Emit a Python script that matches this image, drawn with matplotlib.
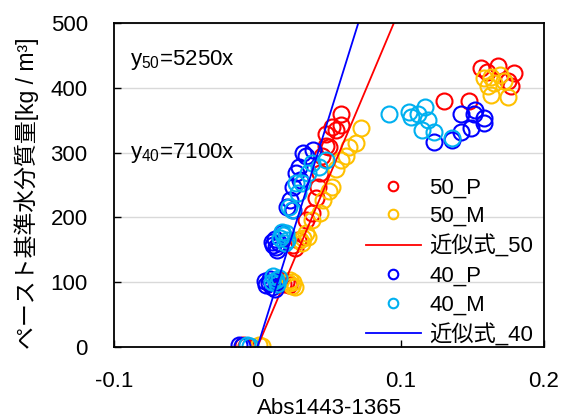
import numpy as np
import matplotlib
matplotlib.use("Agg")
import matplotlib.pyplot as plt

plt.rcParams['font.family'] = ['Liberation Sans', 'Noto Sans CJK JP']
plt.rcParams['mathtext.fontset'] = 'custom'
plt.rcParams['mathtext.rm'] = 'Liberation Sans'
plt.rcParams['mathtext.it'] = 'Liberation Sans'

# 50_P
x50P = [-0.010, -0.008, 0.016, 0.018, 0.020, 0.022, 0.025, 0.026, 0.028, 0.034, 0.038, 0.041,
        0.042, 0.044, 0.045, 0.048, 0.050, 0.048, 0.052, 0.055, 0.058, 0.058,
        0.130, 0.148, 0.156, 0.168, 0.179, 0.177, 0.175, 0.160]
y50P = [3, 2, 103, 97, 100, 95, 158, 152, 165, 196, 207, 230,
        247, 269, 294, 310, 309, 328, 340, 335, 343, 360,
        379, 380, 431, 433, 423, 402, 410, 425]
# 50_M
x50M = [0.001, 0.003, 0.022, 0.023, 0.024, 0.025, 0.026, 0.030, 0.031, 0.032, 0.034, 0.035,
        0.038, 0.044, 0.046, 0.050, 0.052, 0.055, 0.058, 0.062, 0.064, 0.069, 0.072,
        0.163, 0.169, 0.172, 0.165, 0.161, 0.163, 0.175, 0.158]
y50M = [3, 2, 99, 104, 94, 100, 92, 165, 160, 168, 176, 170,
        196, 207, 227, 240, 247, 274, 289, 295, 309, 315, 338,
        417, 420, 410, 408, 402, 389, 386, 415]
# 40_P
x40P = [-0.013, -0.011, 0.005, 0.006, 0.008, 0.009, 0.010, 0.012, 0.013, 0.010, 0.011, 0.012,
        0.013, 0.014, 0.015, 0.017, 0.021, 0.025, 0.023, 0.025, 0.030, 0.027, 0.029, 0.034,
        0.039, 0.032,
        0.123, 0.136, 0.142, 0.149, 0.158, 0.158, 0.142, 0.151, 0.152]
y40P = [3, 2, 102, 96, 99, 105, 93, 90, 100, 162, 158, 167,
        155, 150, 161, 176, 216, 212, 227, 247, 258, 269, 278, 294,
        304, 300,
        317, 320, 331, 338, 346, 354, 359, 359, 366]
# 40_M
x40M = [-0.007, -0.005, 0.010, 0.011, 0.013, 0.014, 0.015, 0.016, 0.017, 0.018, 0.019, 0.021,
        0.020, 0.022, 0.024, 0.028, 0.027, 0.031, 0.035, 0.038, 0.043, 0.048,
        0.092, 0.106, 0.107, 0.112, 0.117, 0.119, 0.115, 0.123, 0.136]
y40M = [3, 2, 100, 110, 104, 97, 107, 168, 178, 173, 160, 165,
        176, 216, 212, 238, 253, 253, 269, 284, 278, 289,
        359, 362, 355, 359, 371, 351, 335, 331, 323]

slope50 = 5250
slope40 = 7100

red = '#FF0000'
orange = '#FFC000'
blue = '#0000FF'
lblue = '#00B0F0'

fig = plt.figure(figsize=(5.62, 4.18), dpi=100)
ax = fig.add_axes([0.203, 0.170, 0.765, 0.775])

mk = dict(marker='o', linestyle='none', markerfacecolor='none', markersize=11.5, markeredgewidth=1.5)
ax.plot(x50P, y50P, color=red, label='50_P', **mk)
ax.plot(x50M, y50M, color=orange, label='50_M', **mk)
xl50 = np.array([0, 500 / slope50])
ax.plot(xl50, slope50 * xl50, color=red, lw=1.3, label='近似式_50')
ax.plot(x40P, y40P, color=blue, label='40_P', **mk)
ax.plot(x40M, y40M, color=lblue, label='40_M', **mk)
xl40 = np.array([0, 500 / slope40])
ax.plot(xl40, slope40 * xl40, color=blue, lw=1.3, label='近似式_40')

ax.set_xlim(-0.1, 0.2)
ax.set_ylim(0, 500)
ax.set_xticks([-0.1, 0, 0.1, 0.2])
ax.set_xticklabels(['-0.1', '0', '0.1', '0.2'])
ax.set_yticks(np.arange(0, 501, 100))
ax.yaxis.grid(True, color='#d9d9d9', lw=1)
ax.set_axisbelow(True)
ax.tick_params(direction='in', length=5, width=1, labelsize=16)
ax.tick_params(axis='x', pad=17)
ax.tick_params(axis='y', pad=19)
for s in ax.spines.values():
    s.set_linewidth(1.3)
    s.set_color('black')

ax.set_xlabel('Abs1443-1365', fontsize=16, labelpad=5)
ax.set_ylabel('ペースト基準水分質量[kg / m³]', fontsize=16.5)
ax.yaxis.set_label_coords(-0.175, 0.475)

ax.text(-0.089, 443, 'y$_{50}$=5250x', fontsize=16, va='center', ha='left')
ax.text(-0.089, 300, 'y$_{40}$=7100x', fontsize=16, va='center', ha='left')

ax.legend(loc='lower right', bbox_to_anchor=(1.0, -0.032), frameon=False, fontsize=16,
          markerscale=0.6, handlelength=2.5, handletextpad=0.35, labelspacing=0.35,
          borderaxespad=0.1)

fig.savefig('out.png', dpi=100)
